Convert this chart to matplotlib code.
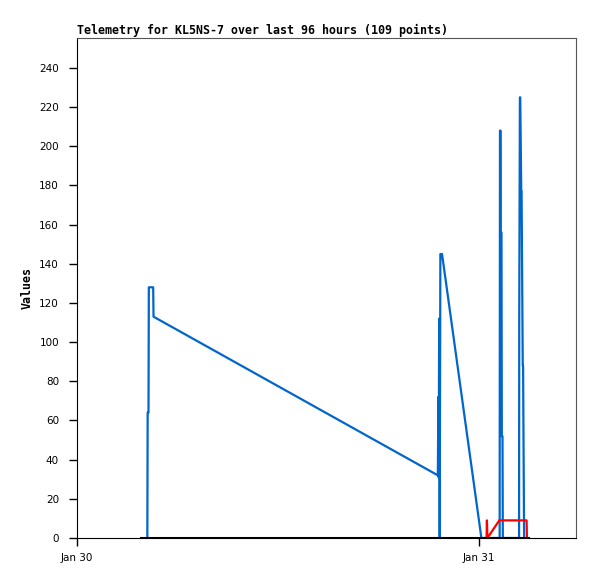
import matplotlib
matplotlib.use("Agg")
import matplotlib.pyplot as plt

# hours since Jan 30 00:00
blue_hours = [4.20, 4.22, 4.27, 4.29, 4.55, 4.57, 21.55, 21.58, 21.60, 21.63, 21.66,
              21.70, 21.80, 24.15, 25.24, 25.26, 25.30, 25.31, 25.35, 25.37, 25.41, 25.43,
              26.40, 26.41, 26.45, 26.47, 26.53, 26.55, 26.62, 26.64, 26.70]
blue_values = [0, 64, 64, 128, 128, 113, 32, 72, 31, 112, 0,
               145, 145, 0, 0, 208, 208, 156, 156, 52, 52, 0,
               0, 112, 225, 225, 177, 177, 88, 88, 0]

red_hours = [24.46, 24.48, 24.51, 25.22, 26.85, 26.87]
red_values = [0, 9, 0, 9, 9, 0]

black_hours = [3.82, 26.92]
black_values = [0, 0]

tick_hours = [0, 24]
tick_labels = ["Jan 30", "Jan 31"]
y_ticks = list(range(0, 241, 20))

fig = plt.figure(figsize=(5.97, 5.79), dpi=100)
ax = fig.add_axes([77 / 597, 41 / 579, 499 / 597, 500 / 579])

ax.plot(blue_hours, blue_values, color="#0066cc", linewidth=1.6)
ax.plot(red_hours, red_values, color="#ff0000", linewidth=1.6)
ax.plot(black_hours, black_values, color="black", linewidth=2.2)

ax.set_xlim(0, 29.8)
ax.set_ylim(0, 255.3)
ax.set_xticks(tick_hours)
ax.set_xticklabels(tick_labels)
ax.set_yticks(y_ticks)
ax.tick_params(axis="y", direction="out", length=6, width=1, pad=7, labelsize=7.5)
ax.tick_params(axis="x", direction="out", length=6, width=1, pad=5, labelsize=7.5)

for side in ["top", "right"]:
    ax.spines[side].set_color("#555555")
for side in ["left", "bottom"]:
    ax.spines[side].set_color("black")

ax.set_title("Telemetry for KL5NS-7 over last 96 hours (109 points)",
             loc="left", fontsize=8.35, fontweight="bold", family="DejaVu Sans Mono", pad=3)
ax.set_ylabel("Values", fontsize=8.35, fontweight="bold", family="DejaVu Sans Mono", labelpad=4)

fig.savefig("out.png", dpi=100)
